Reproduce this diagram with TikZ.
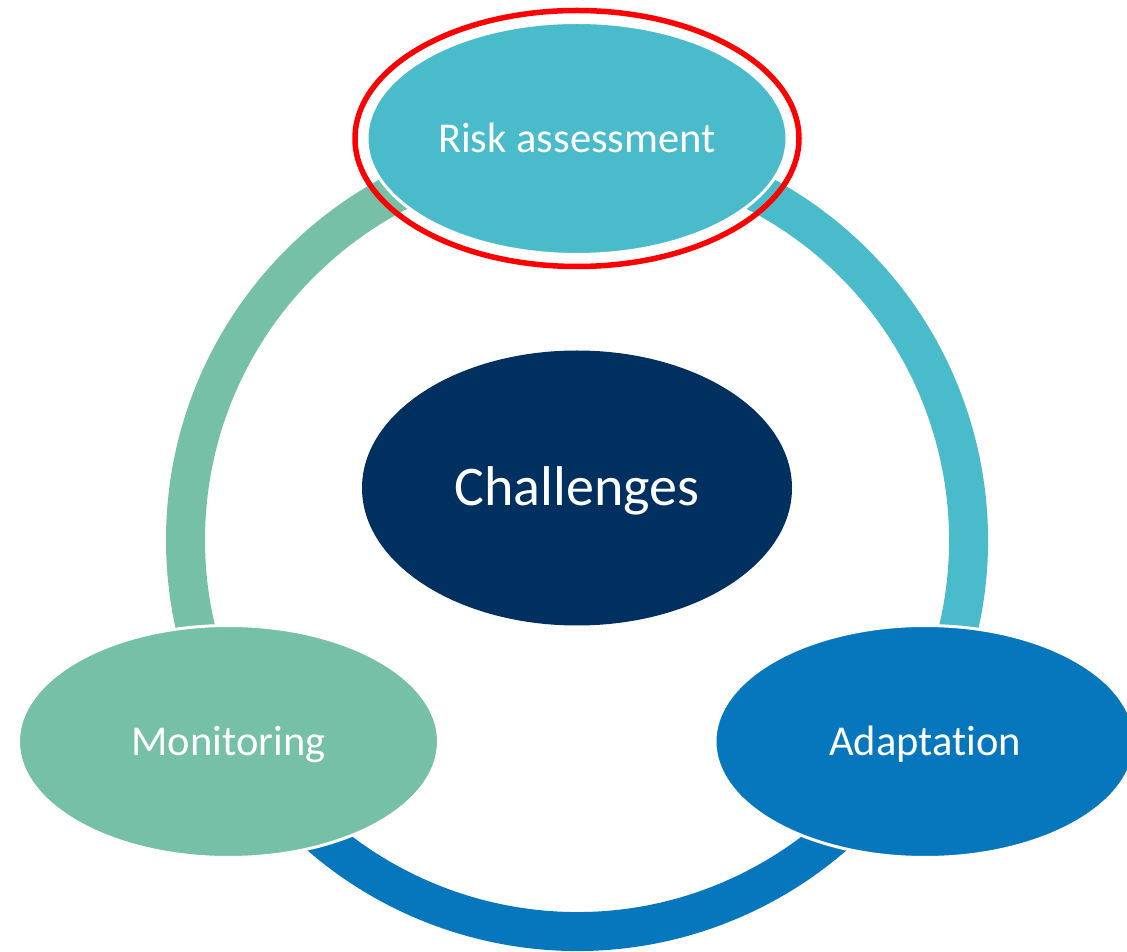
\documentclass[tikz,border=0pt]{standalone}
\usepackage{fontspec}
\setmainfont{Carlito}[Ligatures=CommonOff]
\usepackage{xcolor}
\usetikzlibrary{shapes.geometric}

\definecolor{ringgreen}{HTML}{75C0A6}
\definecolor{ringcyan}{HTML}{4ABBCB}
\definecolor{ringblue}{HTML}{0777BD}
\definecolor{hubnavy}{HTML}{00305F}

\tikzset{
  stage/.style={ellipse, draw=white, line width=3pt, inner sep=0pt,
    minimum width=420pt, minimum height=232pt, text=white,
    font=\fontsize{42.5}{50}\selectfont, text height=27.4pt, text depth=0pt},
  band/.style={line width=39pt},
}

\begin{document}
\begin{tikzpicture}[x=1pt,y=1pt]
\useasboundingbox (0,0) rectangle (1127,951);
\fill[white] (0,0) rectangle (1127,951);
% ring
\coordinate (hub) at (577,411);
\draw[band, ringcyan] ([shift={(-30:391.5)}]hub) arc (-30:90:391.5);
\draw[band, ringgreen] ([shift={(90:391.5)}]hub) arc (90:210:391.5);
\draw[band, ringblue] ([shift={(210:391.5)}]hub) arc (210:330:391.5);
% stages
\draw (577,812.5) node[stage, fill=ringcyan](risk) {Risk assessment};
\draw (228.5,209.5) node[stage, fill=ringgreen](monitor) {Monitoring};
\draw (925,209.5) node[stage, fill=ringblue](adapt) {Adaptation};
\draw (577,463) node[stage, draw=none, fill=hubnavy, minimum width=430pt,
  minimum height=275pt, font=\fontsize{56}{66}\selectfont,
  text height=36pt](challenge) {Challenges};
% highlight
\draw[red, line width=5.5pt] (risk.center) ellipse [x radius=222pt, y radius=128pt];
\end{tikzpicture}
\end{document}
